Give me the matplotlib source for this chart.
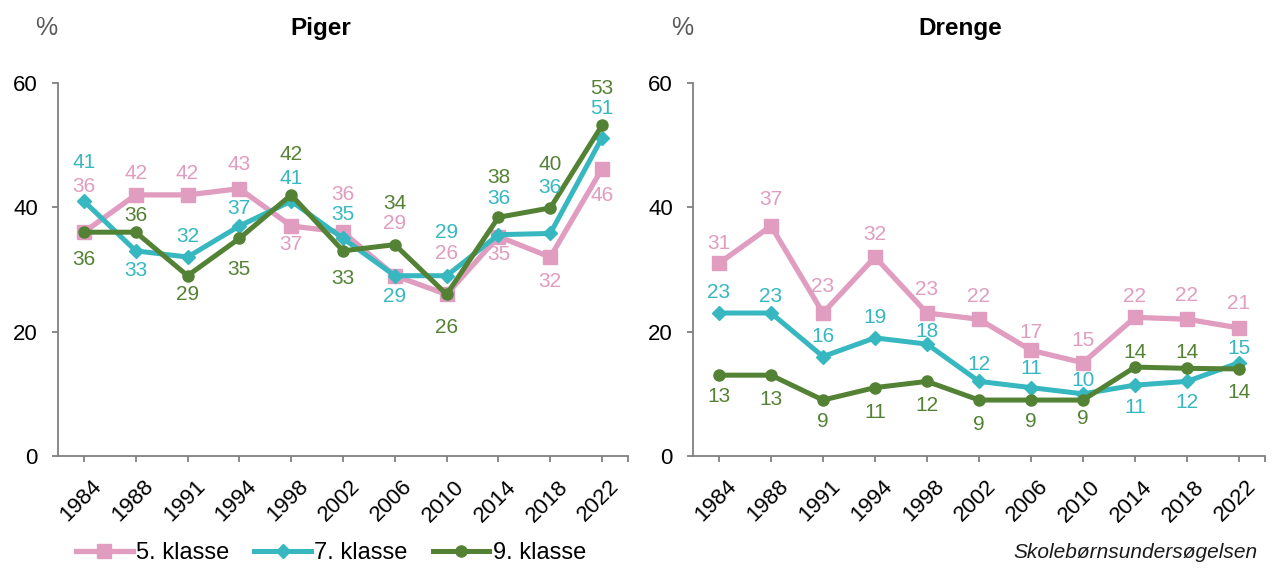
import matplotlib
matplotlib.use("Agg")
import matplotlib.pyplot as plt
from matplotlib.transforms import ScaledTranslation

plt.rcParams["font.family"] = ["Liberation Sans", "DejaVu Sans"]

YEARS = ["1984", "1988", "1991", "1994", "1998", "2002", "2006", "2010", "2014", "2018", "2022"]
SERIES = ["5. klasse", "7. klasse", "9. klasse"]

# Piger
piger_5 = [36, 42, 42, 43, 37, 36, 29, 26, 35.3, 32, 46.2]
piger_7 = [41, 33, 32, 37, 41, 35, 29, 29, 35.6, 35.8, 51.2]
piger_9 = [36, 36, 29, 35, 42, 33, 34, 26, 38.4, 39.9, 53.2]

# Drenge
drenge_5 = [31, 37, 23, 32, 23, 22, 17, 15, 22.3, 22, 20.6]
drenge_7 = [23, 23, 16, 19, 18, 12, 11, 10, 11.4, 12, 15]
drenge_9 = [13, 13, 9, 11, 12, 9, 9, 9, 14.3, 14.1, 14]

# label offsets (pixels, positive = above the marker)
piger_off = [
    [46, 21, 21, 24, -19, 38, 52, 41, -18, -24, -27],
    [39, -20, 21, 17, 23, 24, -21, 43, 36, 46, 29],
    [-27, 17, -19, -31, 40, -28, 41, -33, 40, 43, 37],
]
drenge_off = [
    [20, 26, 27, 23, 24, 23, 18, 22, 21, 24, 24],
    [21, 17, 20, 20, 13, 17, 19, 13, -22, -21, 14],
    [-21, -24, -21, -25, -24, -24, -21, -18, 15, 16, -24],
]

COLORS = ["#E09DC0", "#37B8C0", "#548235"]
MARKERS = ["s", "D", "o"]
MSIZE = [10.5, 7.5, 8]
LW = [3.8, 3.6, 3.6]
AXIS_GREY = "#808080"

fig = plt.figure(figsize=(12.77, 5.81), dpi=100)
W, H = 1277, 581
ax1 = fig.add_axes([58 / W, 1 - 456 / H, 570 / W, 373 / H])
ax2 = fig.add_axes([693 / W, 1 - 456 / H, 572 / W, 373 / H])

x = list(range(len(YEARS)))


def draw(ax, data, offsets):
    lines = []
    for i, vals in enumerate(data):
        ln, = ax.plot(x, vals, color=COLORS[i], marker=MARKERS[i], ms=MSIZE[i],
                      lw=LW[i], label=SERIES[i], zorder=3 + i)
        lines.append(ln)
        for xi, v, dy in zip(x, vals, offsets[i]):
            ax.annotate(f"{v:.0f}", (xi, v), xytext=(0, dy), textcoords="offset pixels",
                        ha="center", va="center", fontsize=15, color=COLORS[i],
                        zorder=10)
    ax.set_xlim(-0.5, 10.5)
    ax.set_ylim(0, 60)
    ax.set_yticks([0, 20, 40, 60])
    ax.set_xticks(x)
    ax.set_xticklabels(YEARS, rotation=45, ha="right", va="top", rotation_mode="anchor")
    ax.set_xticks([10.5], minor=True)
    for s in ["top", "right"]:
        ax.spines[s].set_visible(False)
    for s in ["left", "bottom"]:
        ax.spines[s].set_color(AXIS_GREY)
        ax.spines[s].set_linewidth(1.3)
    ax.tick_params(axis="both", which="both", direction="out", length=4.5, width=1.3,
                   color=AXIS_GREY, labelsize=16, labelcolor="black")
    ax.tick_params(axis="y", pad=10)
    ax.tick_params(axis="x", pad=8)
    for lab in ax.get_xticklabels():
        lab.set_transform(lab.get_transform() + ScaledTranslation(5 / 72, -2 / 72, fig.dpi_scale_trans))
    return lines


lines = draw(ax1, [piger_5, piger_7, piger_9], piger_off)
draw(ax2, [drenge_5, drenge_7, drenge_9], drenge_off)

fig.text(321 / W, 1 - 28 / H, "Piger", ha="center", va="center", fontsize=17.5, fontweight="bold")
fig.text(960 / W, 1 - 28 / H, "Drenge", ha="center", va="center", fontsize=17.5, fontweight="bold")
fig.text(46 / W, 1 - 28 / H, "%", ha="center", va="center", fontsize=18, color="#595959")
fig.text(682 / W, 1 - 28 / H, "%", ha="center", va="center", fontsize=18, color="#595959")

fig.legend(lines, SERIES, loc="center", bbox_to_anchor=(331 / W, 1 - 553 / H), ncol=3,
           frameon=False, fontsize=17, handlelength=2.4, handletextpad=0.15,
           columnspacing=1.05, borderaxespad=0)

fig.text(1258 / W, 1 - 553 / H, "Skolebørnsundersøgelsen", ha="right", va="center",
         fontsize=15, style="italic", color="#1a1a1a")

fig.savefig("out.png", dpi=100)
